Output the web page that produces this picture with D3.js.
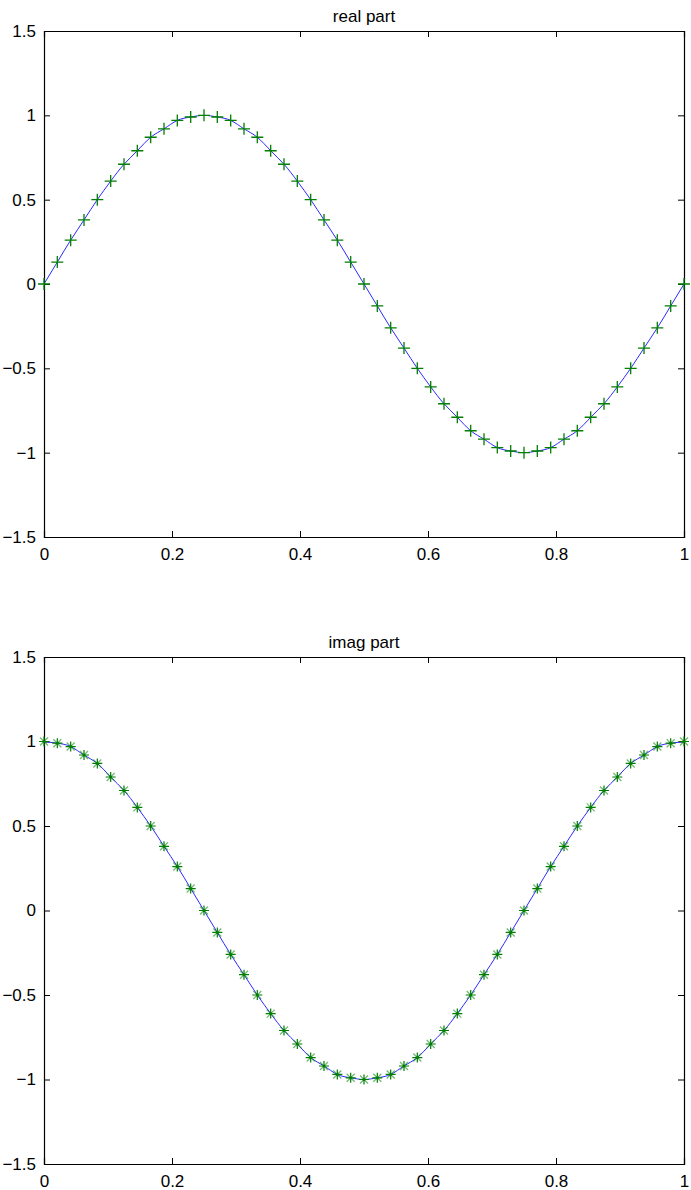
<!DOCTYPE html>
<html>
<head>
<meta charset="utf-8">
<script src="https://cdn.jsdelivr.net/npm/d3@7"></script>
<style>
  body { margin: 0; background: #fff; }
  svg { display: block; font-family: "Liberation Sans", Arial, Helvetica, sans-serif; }
</style>
</head>
<body>
<svg width="691" height="1190"></svg>
<script>
// sample positions, 49 points over [0, 1]
const xs = [
    0, 0.0208, 0.0417, 0.0625, 0.0833, 0.1042, 0.125, 0.1458, 0.1667, 0.1875,
    0.2083, 0.2292, 0.25, 0.2708, 0.2917, 0.3125, 0.3333, 0.3542, 0.375, 0.3958,
    0.4167, 0.4375, 0.4583, 0.4792, 0.5, 0.5208, 0.5417, 0.5625, 0.5833, 0.6042,
    0.625, 0.6458, 0.6667, 0.6875, 0.7083, 0.7292, 0.75, 0.7708, 0.7917, 0.8125,
    0.8333, 0.8542, 0.875, 0.8958, 0.9167, 0.9375, 0.9583, 0.9792, 1
];

const realPart = [
    0, 0.13, 0.26, 0.38, 0.5, 0.61, 0.71, 0.79, 0.87, 0.92,
    0.97, 0.99, 1, 0.99, 0.97, 0.92, 0.87, 0.79, 0.71, 0.61,
    0.5, 0.38, 0.26, 0.13, 0, -0.13, -0.26, -0.38, -0.5, -0.61,
    -0.71, -0.79, -0.87, -0.92, -0.97, -0.99, -1, -0.99, -0.97, -0.92,
    -0.87, -0.79, -0.71, -0.61, -0.5, -0.38, -0.26, -0.13, 0
];

const imagPart = [
    1, 0.99, 0.97, 0.92, 0.87, 0.79, 0.71, 0.61, 0.5, 0.38,
    0.26, 0.13, 0, -0.13, -0.26, -0.38, -0.5, -0.61, -0.71, -0.79,
    -0.87, -0.92, -0.97, -0.99, -1, -0.99, -0.97, -0.92, -0.87, -0.79,
    -0.71, -0.61, -0.5, -0.38, -0.26, -0.13, 0, 0.13, 0.26, 0.38,
    0.5, 0.61, 0.71, 0.79, 0.87, 0.92, 0.97, 0.99, 1
];

const xTicks = [0, 0.2, 0.4, 0.6, 0.8, 1];
const yTicks = [-1.5, -1, -0.5, 0, 0.5, 1, 1.5];

const svg = d3.select("svg");
const green = "#007f00";
const fmt = v => String(v).replace("-", "\u2212");

function drawPanel(top, bottom, title, values, marker) {
    const x = d3.scaleLinear().domain([0, 1]).range([44, 684]);
    const y = d3.scaleLinear().domain([-1.5, 1.5]).range([bottom, top]);
    const g = svg.append("g");

    // ticks on all four sides, pointing in
    g.append("g").attr("transform", `translate(0,${bottom})`)
        .call(d3.axisBottom(x).tickValues(xTicks).tickSize(-6).tickPadding(11).tickFormat(fmt));
    g.append("g").attr("transform", `translate(0,${top})`)
        .call(d3.axisTop(x).tickValues(xTicks).tickSize(-6).tickFormat(""));
    g.append("g").attr("transform", "translate(44,0)")
        .call(d3.axisLeft(y).tickValues(yTicks).tickSize(-6).tickPadding(8).tickFormat(fmt));
    g.append("g").attr("transform", "translate(684,0)")
        .call(d3.axisRight(y).tickValues(yTicks).tickSize(-6).tickFormat(""));

    g.selectAll(".domain").attr("stroke", "#000").attr("stroke-width", 1.2);
    g.selectAll(".tick line").attr("stroke", "#000");
    g.selectAll(".tick text").attr("font-size", 17).attr("fill", "#000")
        .attr("font-family", "Liberation Sans, Arial, sans-serif");

    g.append("text")
        .attr("x", (44 + 684) / 2).attr("y", top - 9)
        .attr("text-anchor", "middle").attr("font-size", 17)
        .text(title);

    const pts = xs.map((d, i) => [x(d), y(values[i])]);

    g.append("path")
        .attr("d", d3.line().curve(d3.curveNatural)(pts))
        .attr("fill", "none").attr("stroke", "#2b2bff").attr("stroke-width", 1);

    const m = g.append("g").selectAll("g").data(pts).enter().append("g")
        .attr("transform", d => `translate(${d[0]},${d[1]})`);

    if (marker === "plus") {
        const p = d3.path();
        p.moveTo(-6, 0); p.lineTo(6, 0); p.moveTo(0, -6); p.lineTo(0, 6);
        m.append("path").attr("d", p.toString())
            .attr("stroke", green).attr("stroke-width", 1.3);
    } else {
        const pd = d3.path();
        pd.moveTo(-4, -4); pd.lineTo(4, 4); pd.moveTo(-4, 4); pd.lineTo(4, -4);
        m.append("path").attr("d", pd.toString())
            .attr("stroke", green).attr("stroke-opacity", 0.55).attr("stroke-width", 1.3);
        const pp = d3.path();
        pp.moveTo(-5, 0); pp.lineTo(5, 0); pp.moveTo(0, -5); pp.lineTo(0, 5);
        m.append("path").attr("d", pp.toString())
            .attr("stroke", green).attr("stroke-width", 1.2);
        m.append("circle").attr("r", 1.5).attr("fill", green);
    }
}

drawPanel(31, 537, "real part", realPart, "plus");
drawPanel(657, 1164, "imag part", imagPart, "star");
</script>
</body>
</html>
